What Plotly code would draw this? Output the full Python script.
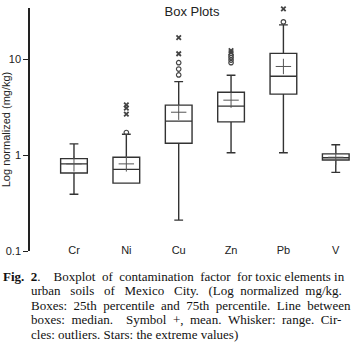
import plotly.graph_objects as go

categories = ["Cr", "Ni", "Cu", "Zn", "Pb", "V"]
lower_whisker = [0.39, 0.51, 0.21, 1.06, 1.06, 0.66]
q1_vals = [0.65, 0.51, 1.33, 2.22, 4.32, 0.89]
median_vals = [0.81, 0.71, 2.26, 3.24, 6.65, 0.94]
q3_vals = [0.92, 0.95, 3.32, 4.53, 11.5, 1.03]
upper_whisker = [1.31, 1.65, 5.84, 6.8, 22.8, 1.28]
mean_vals = [0.81, 0.81, 2.8, 3.74, 8.4, 0.95]

circle_cats = ["Ni", "Cu", "Cu", "Cu", "Zn", "Zn", "Zn", "Zn", "Pb"]
circle_vals = [1.72, 6.86, 7.9, 9.2, 9.2, 9.8, 10.4, 11.0, 24.5]
star_cats = ["Ni", "Ni", "Ni", "Cu", "Cu", "Zn", "Zn", "Pb"]
star_vals = [2.67, 3.09, 3.34, 11.4, 16.8, 11.7, 12.3, 33.4]

y_tick_vals = [0.1, 1, 10]
y_tick_text = ["0.1", "1", "10"]

caption_lines = [
    "<b>Fig. 2</b>.  Boxplot of contamination factor for toxic elements in",
    "urban soils of Mexico City. (Log normalized mg/kg.",
    "Boxes: 25th percentile and 75th percentile. Line between",
    "boxes: median.  Symbol +, mean. Whisker: range. Cir-",
    "cles: outliers. Stars: the extreme values)",
]
# extra spaces spread between words to imitate the justified caption
caption_extra_spaces = [7, 12, 7, 8, 0]


def justify(text, extra):
    parts = text.split(" ")
    gaps = len(parts) - 1
    out = parts[0]
    for k in range(1, len(parts)):
        n = extra // gaps + (1 if (k - 1) < extra % gaps else 0) if gaps else 0
        out += " " + "&nbsp;" * n + parts[k]
    return out


LINE = "#333333"

fig = go.Figure()
fig.add_trace(go.Box(
    x=categories,
    q1=q1_vals, median=median_vals, q3=q3_vals,
    lowerfence=lower_whisker, upperfence=upper_whisker,
    fillcolor="white",
    line=dict(color=LINE, width=1.4),
    width=0.51,
    whiskerwidth=0.33,
    boxpoints=False,
    showlegend=False,
    hoverinfo="skip",
))
fig.add_trace(go.Scatter(
    x=categories, y=mean_vals, mode="markers",
    marker=dict(symbol="cross-thin", size=11, color="#555555", line=dict(color="#555555", width=1)),
    showlegend=False, cliponaxis=False,
))
fig.add_trace(go.Scatter(
    x=circle_cats, y=circle_vals, mode="markers",
    marker=dict(symbol="circle-open", size=4.5, color="#444444", line=dict(color="#444444", width=1.2)),
    showlegend=False, cliponaxis=False,
))
fig.add_trace(go.Scatter(
    x=star_cats, y=star_vals, mode="markers",
    marker=dict(symbol="x-thin", size=4.5, color="#444444", line=dict(color="#444444", width=1.8)),
    showlegend=False, cliponaxis=False,
))

y_top_log = 1.534

fig.update_layout(
    width=354, height=344,
    margin=dict(l=30, r=2, t=8, b=93, autoexpand=False),
    paper_bgcolor="white", plot_bgcolor="white",
    font=dict(family="Liberation Sans, Arial, sans-serif", color="#222222", size=11),
    title=dict(text="Box Plots", x=192 / 354, xanchor="center", y=1 - 11 / 344, yanchor="middle",
               font=dict(size=13, color="#222222"), automargin=False),
    xaxis=dict(
        type="category",
        categoryorder="array", categoryarray=categories,
        range=[-0.84, 5.31],
        showline=False, showgrid=False, zeroline=False,
        ticks="", ticklabelstandoff=-9,
        tickfont=dict(size=11), automargin=False,
    ),
    yaxis=dict(
        type="log",
        range=[-1, y_top_log],
        tickvals=y_tick_vals, ticktext=y_tick_text,
        showline=True, linecolor="#222222", linewidth=1.5,
        ticks="outside", ticklen=5, tickcolor="#222222", tickwidth=1.3,
        showgrid=False, zeroline=False,
        tickfont=dict(size=11), automargin=False,
        title=dict(text="Log normalized (mg/kg)", font=dict(size=11), standoff=4),
    ),
)

for i, line in enumerate(caption_lines):
    fig.add_annotation(
        text=justify(line, caption_extra_spaces[i]), xref="paper", yref="paper",
        x=(1 - 30) / 322 if i == 0 else (29 - 30) / 322,
        y=-(276 + i * 14.6 - 251) / 243,
        xanchor="left", yanchor="middle", showarrow=False,
        font=dict(family="Liberation Serif, Times New Roman, serif", size=13, color="#111111"),
    )

fig.write_html("out.html", config={"displayModeBar": False},
               post_script="document.body.style.margin='0';")
